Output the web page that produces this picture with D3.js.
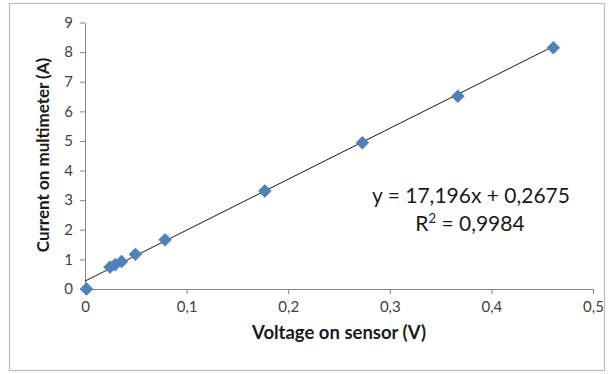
<!DOCTYPE html>
<html><head><meta charset="utf-8">
<script src="https://cdn.jsdelivr.net/npm/d3@7"></script>
<style>body{margin:0;background:#fff;}svg{display:block;font-family:Lato,"Open Sans",sans-serif;}</style>
</head><body>
<svg id="c" width="614" height="374"></svg>
<script>
const voltage = [0.0015, 0.0246, 0.0296, 0.036, 0.0496, 0.0788, 0.177, 0.273, 0.367, 0.461];
const current = [0, 0.74, 0.82, 0.93, 1.17, 1.66, 3.31, 4.94, 6.51, 8.15];
const xTicks = [0, 0.1, 0.2, 0.3, 0.4, 0.5];
const yTicks = [0, 1, 2, 3, 4, 5, 6, 7, 8, 9];
const slope = 17.196, intercept = 0.2675;
const eqText = "y = 17,196x + 0,2675";
const r2Value = "0,9984";

const svg = d3.select("#c");
svg.append("rect").attr("x",9.5).attr("y",3.5).attr("width",595).attr("height",367)
  .attr("fill","#fff").attr("stroke","#bdbdbd").attr("stroke-width",1.2);

const x = d3.scaleLinear().domain([0,0.5]).range([85,593]);
const y = d3.scaleLinear().domain([0,9]).range([289,22.5]);
const fmt = d => d3.format("")(d).replace(".", ",");

const gx = svg.append("g").attr("transform","translate(0,289)")
  .call(d3.axisBottom(x).tickValues(xTicks).tickSize(5).tickSizeOuter(0).tickFormat(fmt));
const gy = svg.append("g").attr("transform","translate(85,0)")
  .call(d3.axisLeft(y).tickValues(yTicks).tickSize(5).tickSizeOuter(0).tickFormat(fmt));
[gx,gy].forEach(g=>{
  g.select(".domain").attr("stroke","#868686");
  g.selectAll(".tick line").attr("stroke","#868686");
  g.selectAll(".tick text").attr("fill","#404040").attr("font-size",15).attr("font-family","Lato");
});
gx.selectAll(".tick text").attr("dy","1.0em");
gy.selectAll(".tick text").attr("x",-12);

// trendline
const x1 = d3.max(voltage);
svg.append("line").attr("x1",x(0)).attr("y1",y(intercept)).attr("x2",x(x1)).attr("y2",y(slope*x1+intercept))
  .attr("stroke","#1a1a1a").attr("stroke-width",1);

// diamonds
const pts = voltage.map((v,i)=>[v,current[i]]);
svg.append("g").selectAll("path").data(pts).join("path")
  .attr("transform",d=>`translate(${x(d[0])},${y(d[1])})`)
  .attr("d",d3.symbol(d3.symbolDiamond2,105)())
  .attr("fill","#4f81bd").attr("stroke","#4a7ab5").attr("stroke-width",0.6);

// equation
svg.append("text").attr("x",471).attr("y",203).attr("text-anchor","middle")
  .attr("font-size",21).attr("fill","#1a1a1a").text(eqText);
const r = svg.append("text").attr("x",470).attr("y",231).attr("text-anchor","middle")
  .attr("font-size",21).attr("fill","#1a1a1a");
r.append("tspan").text("R");
r.append("tspan").attr("font-size",13).attr("dy",-8).text("2");
r.append("tspan").attr("dy",8).text(" = " + r2Value);

// axis titles
svg.append("text").attr("x",339).attr("y",339).attr("text-anchor","middle")
  .attr("font-size",18.5).attr("font-weight","bold").attr("fill","#1a1a1a").text("Voltage on sensor (V)");
svg.append("text").attr("transform","translate(49,155) rotate(-90)").attr("text-anchor","middle")
  .attr("font-size",17).attr("font-weight","bold").attr("fill","#1a1a1a").text("Current on multimeter (A)");
</script>
</body></html>
